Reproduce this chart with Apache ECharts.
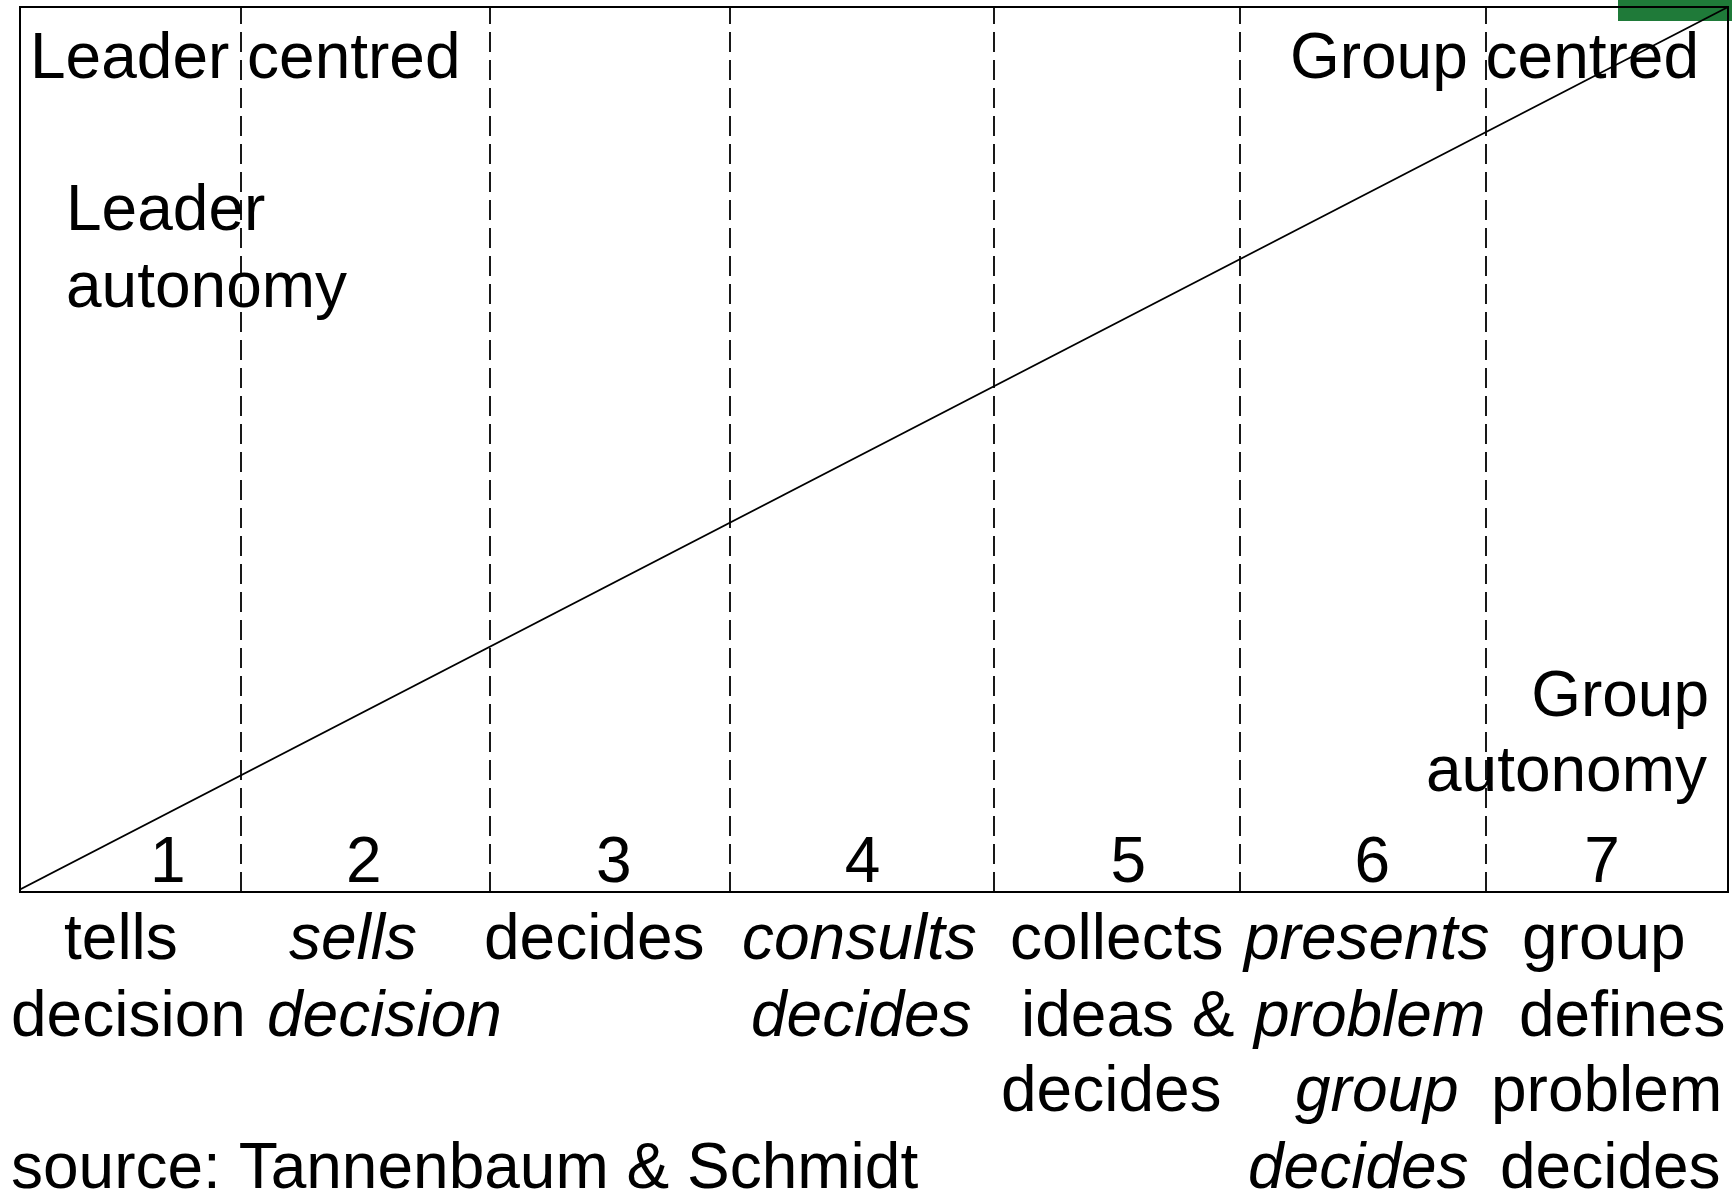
<!DOCTYPE html>
<html>
<head>
<meta charset="utf-8">
<title>Leadership continuum</title>
<script src="https://cdn.jsdelivr.net/npm/echarts@6/dist/echarts.min.js"></script>
<style>
  html, body { margin: 0; padding: 0; background: #fff; }
  #main { width: 1732px; height: 1193px; }
</style>
</head>
<body>
<div id="main"></div>
<script>
// continuum positions (0 = leader centred, 100 = group centred)
const boundaries = [0, 12.94, 27.52, 41.57, 57.03, 71.43, 85.83, 100];
const steps = ['1', '2', '3', '4', '5', '6', '7'];
const stepX = [8.66, 20.13, 34.76, 49.33, 64.89, 79.17, 92.63];
// authority line: leader autonomy -> group autonomy
const autonomyLine = [[-0.18, 0.1], [100, 100]];
const stepText = [
  ['tells', 'decision'],
  ['sells', 'decision'],
  ['decides'],
  ['consults', 'decides'],
  ['collects', 'ideas &', 'decides'],
  ['presents', 'problem', 'group', 'decides'],
  ['group', 'defines', 'problem', 'decides']
];
const italicStep = [false, true, false, true, false, true, false];
const sourceText = 'source: Tannenbaum & Schmidt';

// layout (pixels): left edge of each text line, baselines of rows
const stepTextLeft = [
  [64, 11],
  [289, 267],
  [484],
  [742, 751],
  [1010, 1021, 1001],
  [1244, 1254, 1295, 1248],
  [1522, 1519, 1491, 1500]
];
const rowBase = [961, 1038, 1113, 1190];

const FS = 64;
const OFF = 20; // baseline offset for middle alignment
function font(italic) {
  return (italic ? 'italic ' : '') + FS + 'px "Liberation Sans", Arial, sans-serif';
}
function txt(x, base, text, align, italic) {
  return {
    type: 'text',
    x: x,
    y: base - OFF,
    z: 5,
    style: {
      text: text,
      font: font(italic),
      fill: '#000',
      align: align || 'left',
      verticalAlign: 'middle',
      textAlign: align || 'left',
      textVerticalAlign: 'middle'
    }
  };
}

let graphics = [
  { type: 'rect', z: -1, shape: { x: 1618, y: 0, width: 114, height: 21 }, style: { fill: '#1f7a39' } },
  txt(30, 80, 'Leader centred'),
  txt(1699, 80, 'Group centred', 'right'),
  txt(66, 232, 'Leader'),
  txt(66, 309, 'autonomy'),
  txt(1709, 718, 'Group', 'right'),
  txt(1707, 793, 'autonomy', 'right'),
  txt(11, rowBase[3], sourceText)
];
stepText.forEach((lines, i) => {
  lines.forEach((line, j) => {
    graphics.push(txt(stepTextLeft[i][j], rowBase[j], line, 'left', italicStep[i]));
  });
});

let myChart = echarts.init(document.getElementById('main'));
let option = {
  backgroundColor: '#fff',
  animation: false,
  grid: {
    left: 20,
    top: 7,
    right: 4,
    bottom: 301,
    show: true,
    borderColor: '#000',
    borderWidth: 2,
    backgroundColor: 'transparent'
  },
  xAxis: {
    type: 'value',
    min: 0,
    max: 100,
    axisLine: { show: false },
    axisTick: { show: false },
    axisLabel: { show: false },
    splitLine: { show: false }
  },
  yAxis: {
    type: 'value',
    min: 0,
    max: 100,
    axisLine: { show: false },
    axisTick: { show: false },
    axisLabel: { show: false },
    splitLine: { show: false }
  },
  series: [
    {
      name: 'autonomy',
      type: 'line',
      data: autonomyLine,
      clip: false,
      symbol: 'none',
      z: 3,
      lineStyle: { color: '#000', width: 1.8 },
      markLine: {
        silent: true,
        symbol: 'none',
        label: { show: false },
        lineStyle: { color: '#000', width: 1.8, type: [20, 8] },
        data: boundaries.slice(1, -1).map(v => ({ xAxis: v }))
      }
    },
    {
      name: 'steps',
      type: 'scatter',
      symbolSize: 1,
      itemStyle: { color: 'rgba(0,0,0,0)' },
      data: steps.map((s, i) => [stepX[i], 3.16, s]),
      label: {
        show: true,
        position: 'inside',
        formatter: p => p.data[2],
        color: '#000',
        opacity: 1,
        textBorderWidth: 0,
        fontSize: FS,
        fontFamily: '"Liberation Sans", Arial, sans-serif'
      }
    }
  ],
  graphic: graphics
};
myChart.setOption(option);
window.addEventListener('resize', function () {
  myChart.resize();
});
</script>
</body>
</html>
